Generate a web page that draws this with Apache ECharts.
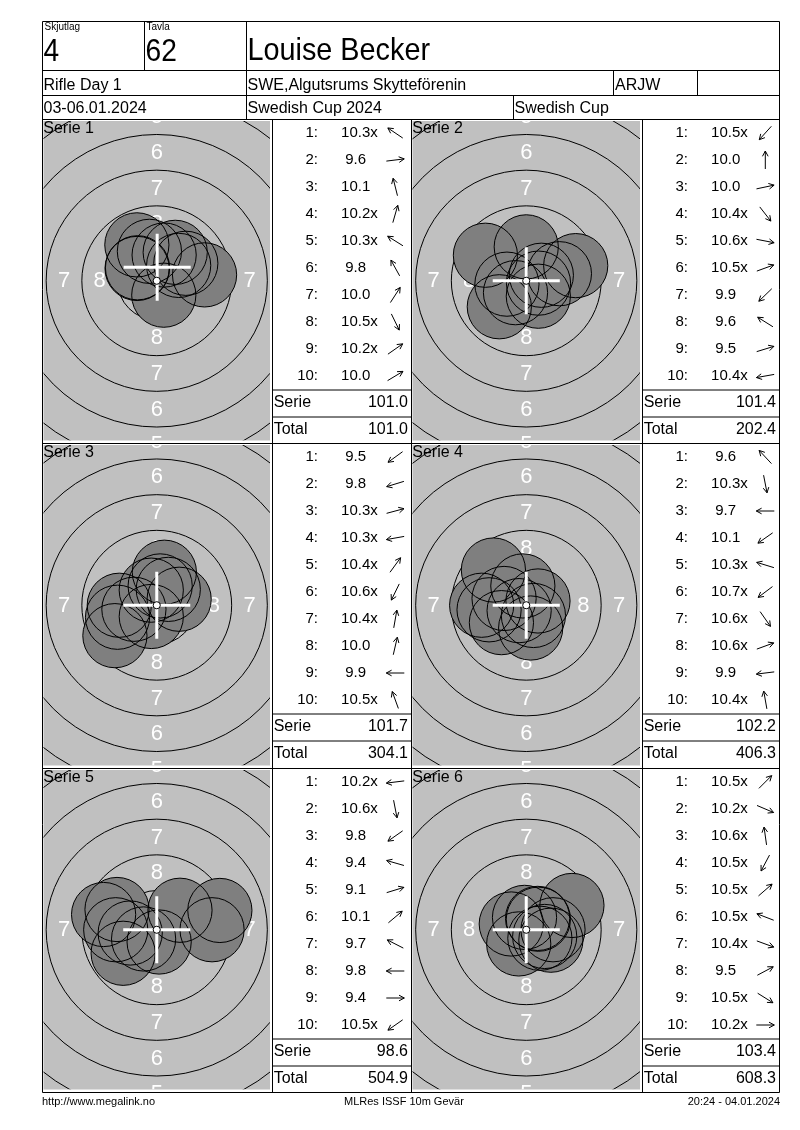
<!DOCTYPE html>
<html><head><meta charset="utf-8">
<script src="https://cdn.jsdelivr.net/npm/echarts/dist/echarts.min.js"></script>
<style>html,body{margin:0;padding:0;background:#fff}#c{width:800px;height:1130px}</style>
</head><body><div id="c"></div>
<script>
// ---------------- data ----------------
const serieLabels = ['Serie 1','Serie 2','Serie 3','Serie 4','Serie 5','Serie 6'];
const shots1 = ['10.3x','9.6','10.1','10.2x','10.3x','9.8','10.0','10.5x','10.2x','10.0'];
const dirs1  = [146, 7, 104, 74, 148, 119, 57, -64, 35, 31];
const shots2 = ['10.5x','10.0','10.0','10.4x','10.6x','10.5x','9.9','9.6','9.5','10.4x'];
const dirs2  = [228, 90, 12, -52, -11, 20, 224, 148, 17, 190];
const shots3 = ['9.5','9.8','10.3x','10.3x','10.4x','10.6x','10.4x','10.0','9.9','10.5x'];
const dirs3  = [216, 197, 15, 190, 54, 244, 80, 77, 180, 110];
const shots4 = ['9.6','10.3x','9.7','10.1','10.3x','10.7x','10.6x','10.6x','9.9','10.4x'];
const dirs4  = [133, 281, 180, 215, 163, 217, -55, 20, 187, 100];
const shots5 = ['10.2x','10.6x','9.8','9.4','9.1','10.1','9.7','9.8','9.4','10.5x'];
const dirs5  = [187, 281, 215, 164, 17, 40, 153, 180, 0, 215];
const shots6 = ['10.5x','10.2x','10.6x','10.5x','10.5x','10.5x','10.4x','9.5','10.5x','10.2x'];
const dirs6  = [45, -23, 98, 242, 41, 159, -20, 28, -32, 0];
// white cross-hair position per serie (mm from centre)
const crossX = [0.03, 0, 0, 0, 0, 0];
const crossY = [0.95, 0, 0, 0, 0, 0];
const serieScores = ['101.0','101.4','101.7','102.2','98.6','103.4'];
const totalScores = ['101.0','202.4','304.1','406.3','504.9','608.3'];
const ringNumbers = [1,2,3,4,5,6,7,8,9];
const ringLabelNumbers = [8,7,6,5,4,3,2,1];
const rowLabels = ['1:','2:','3:','4:','5:','6:','7:','8:','9:','10:'];
const summaryLabels = ['Serie','Total'];

const allShots = [shots1, shots2, shots3, shots4, shots5, shots6];
const allDirs = [dirs1, dirs2, dirs3, dirs4, dirs5, dirs6];

// ---------------- layout / style ----------------
const FONT = '"Liberation Sans", Arial, Helvetica, sans-serif';
const S = 14.27;               // px per mm on the target
const rowLines = [119.5, 443.5, 768.5, 1092.5];
const colTarget = [[43.5, 270], [412.5, 640]];
const colList = [[272.5, 411.5], [642.5, 779.5]];

const mctx = document.createElement('canvas').getContext('2d');
function textW(t, font){ mctx.font = font; return mctx.measureText(t).width; }

function shotXY(scoreStr, dirDeg){
  const s = parseFloat(scoreStr);
  const d = (11 - s) * 2.5 - 0.125;        // mm from centre (ISSF decimal scoring)
  const t = dirDeg * Math.PI / 180;
  return [d * Math.cos(t), d * Math.sin(t)];
}

const option = {animation:false, grid:[], xAxis:[], yAxis:[], series:[], graphic:[]};

function clipOf(params){
  const c = params.coordSys;
  return {type:'rect', shape:{x:c.x, y:c.y, width:c.width, height:c.height}};
}

for (let p = 0; p < 6; p++){
  const col = p % 2, row = Math.floor(p / 2);
  const gx0 = colTarget[col][0], gx1 = colTarget[col][1];
  const gy0 = rowLines[row] + 1.5, gy1 = rowLines[row+1] - 3;
  const w = gx1 - gx0, h = gy1 - gy0;
  const gi = option.grid.length;
  option.grid.push({left:gx0, top:gy0, width:w, height:h, show:true, backgroundColor:'#c0c0c0', borderWidth:0, outerBoundsMode:'none'});
  option.xAxis.push({type:'value', gridIndex:gi, min:-w/2/S, max:w/2/S, show:false});
  option.yAxis.push({type:'value', gridIndex:gi, min:-h/2/S, max:h/2/S, show:false});
  const base = {type:'custom', coordinateSystem:'cartesian2d', xAxisIndex:gi, yAxisIndex:gi, silent:true, clip:true};

  // rings
  option.series.push(Object.assign({}, base, {
    data: ringNumbers.map(n => [0, 0, n]),
    renderItem: (params, api) => {
      const c = api.coord([0, 0]);
      const n = api.value(2);
      const r = api.size([0.25 + (10 - n) * 2.5, 0])[0];
      return {type:'group', clipPath:clipOf(params), children:[
        {type:'circle', shape:{cx:c[0], cy:c[1], r:r}, style:{fill:'none', stroke:'#000', lineWidth:1}}]};
    }
  }));
  // ring numbers
  option.series.push(Object.assign({}, base, {
    data: ringLabelNumbers.map(n => [0, 0, n]),
    renderItem: (params, api) => {
      const c = api.coord([0, 0]);
      const n = api.value(2);
      const r = api.size([(10 - n) * 2.5 - 1.0, 0])[0];
      const pos = [[-r,0],[r,0],[0,-r],[0,r]];
      return {type:'group', clipPath:clipOf(params), children: pos.map(q => ({
        type:'text', style:{text:String(n), x:c[0]+q[0], y:c[1]+q[1]+0.5, align:'center', verticalAlign:'middle',
          font:'22px ' + FONT, fill:'#ffffff'}}))};
    }
  }));
  // shots
  const pts = allShots[p].map((s, k) => shotXY(s, allDirs[p][k]));
  option.series.push(Object.assign({}, base, {
    data: pts,
    renderItem: (params, api) => {
      const c = api.coord([api.value(0), api.value(1)]);
      const r = api.size([2.25, 0])[0];
      return {type:'group', clipPath:clipOf(params), children:[
        {type:'circle', shape:{cx:c[0], cy:c[1], r:r}, style:{fill:'#7f7f7f', stroke:'none'}}]};
    }
  }));
  option.series.push(Object.assign({}, base, {
    data: pts,
    renderItem: (params, api) => {
      const c = api.coord([api.value(0), api.value(1)]);
      const r = api.size([2.25, 0])[0];
      return {type:'group', clipPath:clipOf(params), children:[
        {type:'circle', shape:{cx:c[0], cy:c[1], r:r}, style:{fill:'none', stroke:'#000', lineWidth:1}}]};
    }
  }));
  // cross-hair + ten ring
  option.series.push(Object.assign({}, base, {
    data: [[crossX[p], crossY[p]]],
    renderItem: (params, api) => {
      const m = api.coord([api.value(0), api.value(1)]);
      const c = api.coord([0, 0]);
      const L = api.size([2.35, 0])[0];
      const r10 = api.size([0.25, 0])[0];
      return {type:'group', clipPath:clipOf(params), children:[
        {type:'line', shape:{x1:m[0]-L, y1:m[1], x2:m[0]+L, y2:m[1]}, style:{stroke:'#fff', lineWidth:3}},
        {type:'line', shape:{x1:m[0], y1:m[1]-L, x2:m[0], y2:m[1]+L}, style:{stroke:'#fff', lineWidth:3}},
        {type:'circle', shape:{cx:c[0], cy:c[1], r:r10}, style:{fill:'#fff', stroke:'#000', lineWidth:1}}
      ]};
    }
  }));

  // shot list
  const lx0 = colList[col][0], lx1 = colList[col][1], lw = lx1 - lx0;
  const li = option.grid.length;
  const cats = rowLabels.concat(summaryLabels);
  option.grid.push({left:lx0, top:rowLines[row], width:lw, height:324, show:false, outerBoundsMode:'none'});
  option.xAxis.push({type:'value', gridIndex:li, min:0, max:lw, show:false});
  option.yAxis.push({type:'category', gridIndex:li, data:cats, inverse:true, show:false});
  const F15 = '15px ' + FONT, F16 = '16px ' + FONT;
  option.series.push({
    type:'custom', coordinateSystem:'cartesian2d', xAxisIndex:li, yAxisIndex:li, silent:true,
    data: cats.map((_, i) => [0, i]),
    renderItem: (params, api) => {
      const i = params.dataIndex;
      const pt = api.coord([0, i]);
      const L = pt[0], y = pt[1];
      const ch = [];
      if (i < 10){
        const sc = allShots[p][i];
        const num = sc.replace('x', '');
        const cx = L + 83.2;
        ch.push({type:'text', style:{text:rowLabels[i], x:L+45.5, y:y, align:'right', verticalAlign:'middle', font:F15, fill:'#000'}});
        ch.push({type:'text', style:{text:num, x:cx, y:y, align:'center', verticalAlign:'middle', font:F15, fill:'#000'}});
        if (sc.indexOf('x') >= 0){
          ch.push({type:'text', style:{text:'x', x:cx + textW(num, F15)/2, y:y, align:'left', verticalAlign:'middle', font:F15, fill:'#000'}});
        }
        const t = allDirs[p][i] * Math.PI / 180;
        const ux = Math.cos(t), uy = -Math.sin(t);
        const ax = L + 122.8, ay = y, hl = 9;
        const hx = ax + ux*hl, hy = ay + uy*hl;
        const tx = ax - ux*hl, ty = ay - uy*hl;
        const b = 6, ang = 28 * Math.PI / 180;
        const bx = -ux, by = -uy;
        const r1x = bx*Math.cos(ang) - by*Math.sin(ang), r1y = bx*Math.sin(ang) + by*Math.cos(ang);
        const r2x = bx*Math.cos(-ang) - by*Math.sin(-ang), r2y = bx*Math.sin(-ang) + by*Math.cos(-ang);
        const st = {stroke:'#000', lineWidth:1};
        ch.push({type:'line', shape:{x1:tx, y1:ty, x2:hx, y2:hy}, style:st});
        ch.push({type:'line', shape:{x1:hx, y1:hy, x2:hx + r1x*b, y2:hy + r1y*b}, style:st});
        ch.push({type:'line', shape:{x1:hx, y1:hy, x2:hx + r2x*b, y2:hy + r2y*b}, style:st});
      } else {
        const val = i === 10 ? serieScores[p] : totalScores[p];
        ch.push({type:'text', style:{text:summaryLabels[i-10], x:L+1.2, y:y, align:'left', verticalAlign:'middle', font:F16, fill:'#000'}});
        ch.push({type:'text', style:{text:val, x:L+lw-3.5, y:y, align:'right', verticalAlign:'middle', font:F16, fill:'#000'}});
      }
      return {type:'group', children:ch};
    }
  });
}

// ---------------- table frame and header (graphic) ----------------
const G = option.graphic;
function hline(y, x1, x2){ G.push({type:'line', z:100, silent:true, shape:{x1:x1, y1:y, x2:x2, y2:y}, style:{stroke:'#000', lineWidth:1}}); }
function vline(x, y1, y2){ G.push({type:'line', z:100, silent:true, shape:{x1:x, y1:y1, x2:x, y2:y2}, style:{stroke:'#000', lineWidth:1}}); }
function txt(t, x, y, size, opts){
  opts = opts || {};
  G.push({type:'text', z:101, silent:true, x:x, y:y, scaleX:opts.sx || 1,
    style:{text:t, x:0, y:0, font:size + 'px ' + FONT, fill:'#000', align:opts.align || 'left', verticalAlign:'middle'}});
}
const XL = 42.5, XR = 779.5;
[21.5, 70.5, 95.5].forEach(y => hline(y, XL, XR));
rowLines.forEach(y => hline(y, XL, XR));
for (let r = 0; r < 3; r++){
  colList.forEach(c => { hline(rowLines[r] + 270.5, c[0], c[1]); hline(rowLines[r] + 297.5, c[0], c[1]); });
}
vline(XL, 21.5, 1092.5); vline(XR, 21.5, 1092.5);
vline(144.5, 21.5, 70.5); vline(246.5, 21.5, 119.5);
vline(613.5, 70.5, 95.5); vline(697.5, 70.5, 95.5); vline(513.5, 95.5, 119.5);
vline(272.5, 119.5, 1092.5); vline(411.5, 119.5, 1092.5); vline(642.5, 119.5, 1092.5);

txt('Skjutlag', 44.5, 27, 10);
txt('Tavla', 146.5, 27, 10);
txt('4', 43.5, 52.5, 32, {sx:0.88});
txt('62', 145.5, 52.5, 32, {sx:0.88});
txt('Louise Becker', 247.5, 51.5, 32, {sx:0.9});
txt('Rifle Day 1', 43.5, 86, 16);
txt('SWE,Algutsrums Skytteförenin', 247.5, 86, 16);
txt('ARJW', 615, 86, 16);
txt('03-06.01.2024', 43.5, 108.5, 16);
txt('Swedish Cup 2024', 247.5, 108.5, 16);
txt('Swedish Cup', 514.5, 108.5, 16);
for (let p = 0; p < 6; p++){
  const col = p % 2, row = Math.floor(p / 2);
  txt(serieLabels[p], colTarget[col][0] - 0.2, rowLines[row] + 9.5, 16);
}
txt('http://www.megalink.no', 42, 1102, 11);
txt('MLRes ISSF 10m Gevär', 344, 1102, 11);
txt('20:24 - 04.01.2024', 780, 1102, 11, {align:'right'});

const chart = echarts.init(document.getElementById('c'), null, {renderer:'canvas'});
chart.setOption(option);
</script>
</body></html>
